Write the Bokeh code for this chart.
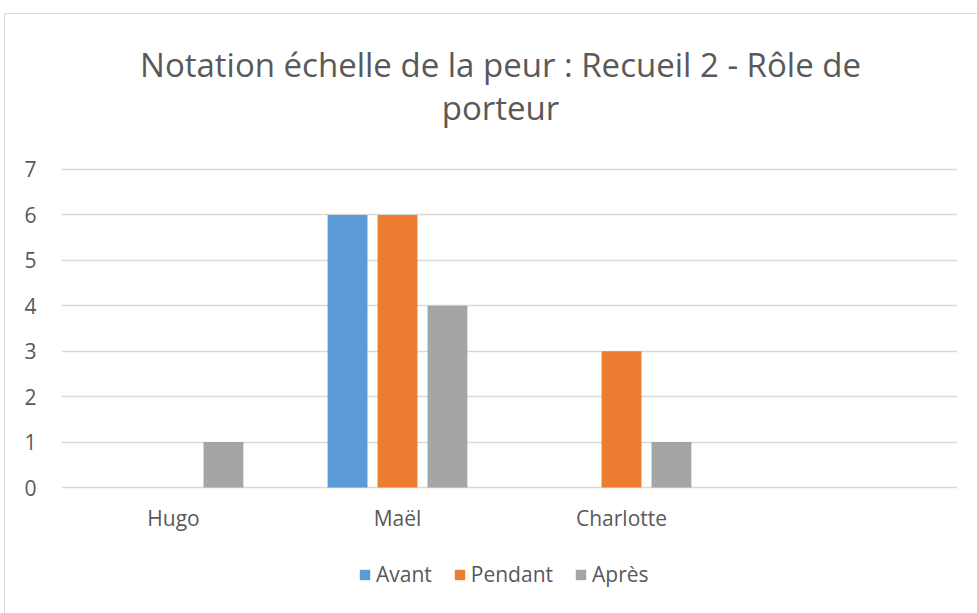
from bokeh.plotting import figure
from bokeh.models import FactorRange, Legend, LegendItem, Label, ColumnDataSource
from bokeh.core.properties import value
from bokeh.transform import dodge
from bokeh.embed import file_html
from bokeh.resources import INLINE

categories = ["Hugo", "Maël", "Charlotte", " "]
series = ["Avant", "Pendant", "Après"]
avant = [0, 6, 0, 0]
pendant = [0, 6, 3, 0]
apres = [1, 4, 1, 0]
colors = ["#5B9BD5", "#ED7D31", "#A5A5A5"]
y_ticks = [0, 1, 2, 3, 4, 5, 6, 7]
title_lines = ["Notation échelle de la peur : Recueil 2 - Rôle de", "porteur"]

FONT = "Open Sans"
TXT = "#595959"
W, H = 977, 613
PX = 45.43          # pixels per unit on the value axis
Y0 = 487            # pixel row of value 0

src = ColumnDataSource(dict(cat=categories, Avant=avant, Pendant=pendant, Après=apres))

p = figure(x_range=FactorRange(*categories),
           y_range=(-(H - Y0) / PX, Y0 / PX),
           width=W, height=H, output_backend="svg", toolbar_location=None,
           x_axis_location=None,
           min_border_left=61, min_border_right=20, min_border_top=0,
           min_border_bottom=0)
p.outline_line_color = None
p.border_fill_color = None
p.background_fill_color = None
p.styles = {"background": "linear-gradient(#D9D9D9,#D9D9D9) 4px 13px / 1px 700px no-repeat, "
                          "linear-gradient(#D9D9D9,#D9D9D9) 4px 13px / 1000px 1px no-repeat, white"}

offsets = [-0.223, 0.0, 0.223]
renderers = []
for s, c, off in zip(series, colors, offsets):
    r = p.vbar(x=dodge("cat", off, range=p.x_range), top=s, width=0.178, bottom=0,
               source=src, fill_color=c, line_color=None)
    renderers.append(r)

# category labels under the bars
p.text(x=categories, y=[-0.68] * len(categories), text=categories,
       text_align="center", text_baseline="middle",
       text_font=value(FONT), text_font_size="21px", text_color=TXT)

for i, line in enumerate(title_lines):
    p.add_layout(Label(x=439, y=H - 64 - 43 * i, x_units="screen", y_units="screen",
                       text=line, text_align="center", text_baseline="alphabetic",
                       text_font=FONT, text_font_size="33px", text_color=TXT))

p.yaxis.ticker = y_ticks
p.yaxis.axis_line_color = None
p.yaxis.major_tick_line_color = None
p.yaxis.minor_tick_line_color = None
p.yaxis.major_label_standoff = 19
p.yaxis.major_label_text_font = FONT
p.yaxis.major_label_text_font_size = "21px"
p.yaxis.major_label_text_color = TXT

p.xgrid.grid_line_color = None
p.ygrid.ticker = y_ticks
p.ygrid.grid_line_color = "#D9D9D9"
p.ygrid.grid_line_width = 1.3

legend = Legend(items=[LegendItem(label=s, renderers=[r]) for s, r in zip(series, renderers)],
                orientation="horizontal", location=(297, 25),
                label_text_font=FONT, label_text_font_size="21px", label_text_color=TXT,
                glyph_width=13, glyph_height=13, label_standoff=5, spacing=21,
                label_height=20, border_line_color=None, background_fill_alpha=0,
                margin=0, padding=0)
p.add_layout(legend, "center")

open("out.html", "w").write(file_html(p, INLINE))
